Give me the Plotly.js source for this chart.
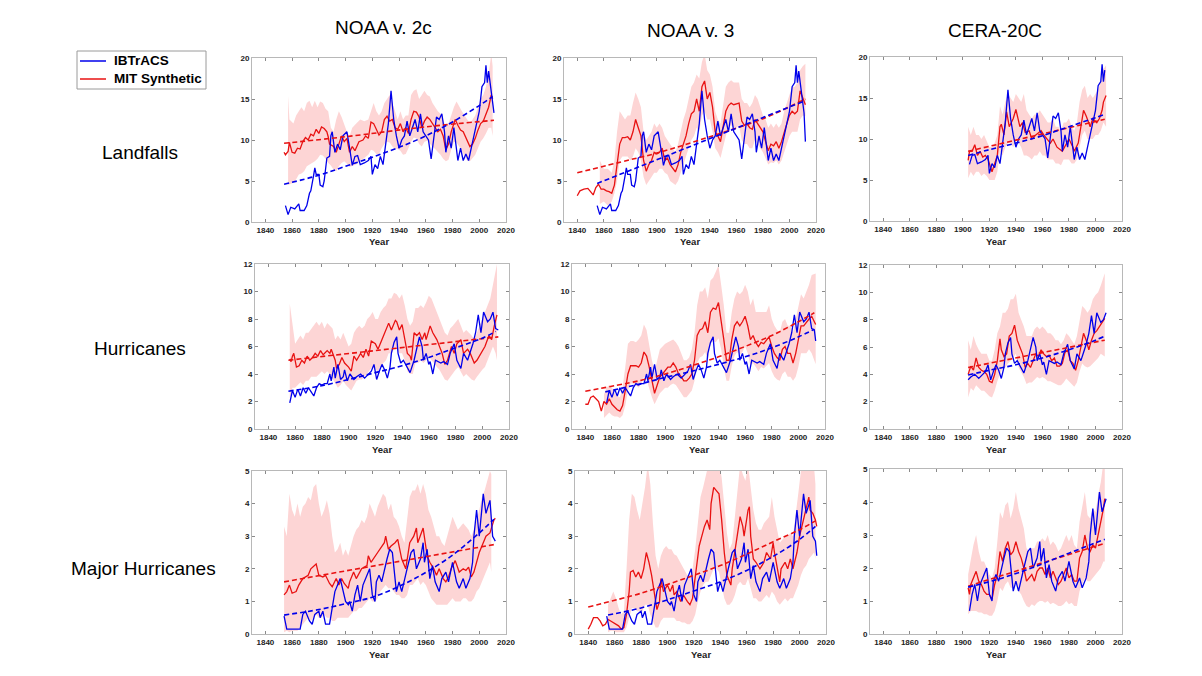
<!DOCTYPE html>
<html><head><meta charset="utf-8">
<script src="https://cdn.plot.ly/plotly-3.0.1.min.js"></script>
<style>html,body{margin:0;padding:0;background:#fff}#chart{width:1202px;height:676px}</style>
</head><body><div id="chart"></div>
<script>
// ---------- tick labels ----------
const xTickVals = [1840,1860,1880,1900,1920,1940,1960,1980,2000,2020];
const yTicksLand = [0,5,10,15,20];
const yTicksHur = [0,2,4,6,8,10,12];
const yTicksMaj = [0,1,2,3,4,5];
const columnTitles = ['NOAA v. 2c','NOAA v. 3','CERA-20C'];
const rowTitles = ['Landfalls','Hurricanes','Major Hurricanes'];
const seriesNames = ['IBTrACS','MIT Synthetic'];

// ---------- IBTrACS (observed) [year, value] ----------
const blueLand = [[1855,2.0],[1857,0.9],[1859,1.8],[1862,1.6],[1865,2.2],[1866,1.4],[1869,1.4],[1871,2.0],[1873,3.5],[1874,3.8],[1876,5.6],[1877,6.6],[1878,5.8],[1880,5.8],[1881,4.5],[1883,4.3],[1884,5.0],[1885,6.5],[1886,7.8],[1888,8.0],[1889,10.5],[1890,11.0],[1891,9.5],[1892,8.5],[1894,9.5],[1896,8.8],[1898,10.5],[1901,11.0],[1903,9.0],[1905,6.9],[1907,8.0],[1909,8.1],[1911,7.0],[1914,7.2],[1917,7.5],[1919,8.0],[1920,5.8],[1922,7.0],[1924,6.5],[1926,8.0],[1928,7.0],[1930,9.5],[1932,12.0],[1934,16.0],[1936,12.5],[1938,10.5],[1940,9.0],[1942,10.0],[1944,10.5],[1946,12.3],[1948,10.5],[1950,11.5],[1952,12.5],[1954,11.0],[1956,13.2],[1958,11.0],[1960,10.5],[1962,10.0],[1964,7.7],[1966,10.5],[1968,12.8],[1970,12.5],[1972,13.2],[1974,11.0],[1975,8.5],[1977,10.5],[1979,9.0],[1981,11.5],[1984,7.5],[1986,9.0],[1988,7.5],[1990,8.3],[1992,7.5],[1994,9.0],[1996,10.5],[1998,12.0],[2000,13.5],[2002,16.5],[2004,17.0],[2005,19.1],[2006,17.0],[2007,18.4],[2009,15.5],[2011,13.3]];
const blueHur = [[1856,1.9],[1857,2.3],[1858,2.8],[1860,2.3],[1862,2.9],[1864,2.4],[1866,3.0],[1868,2.6],[1870,3.0],[1872,2.7],[1874,2.4],[1876,3.0],[1878,3.3],[1880,3.2],[1882,3.3],[1884,3.3],[1886,4.0],[1887,3.5],[1889,4.5],[1890,3.7],[1892,4.7],[1894,3.6],[1896,3.8],[1897,4.3],[1899,3.5],[1901,4.0],[1904,3.6],[1906,3.8],[1909,4.0],[1912,3.7],[1915,4.0],[1917,4.2],[1919,4.7],[1921,3.6],[1923,4.2],[1925,4.7],[1927,4.3],[1929,3.7],[1931,4.5],[1932,5.5],[1934,6.3],[1936,6.7],[1937,5.5],[1939,4.8],[1941,5.0],[1944,4.5],[1946,4.1],[1949,5.0],[1951,5.8],[1953,6.7],[1955,6.0],[1956,5.0],[1958,5.5],[1960,4.7],[1961,4.9],[1963,4.0],[1965,5.0],[1969,4.8],[1971,4.9],[1974,4.7],[1976,5.5],[1979,6.2],[1981,5.0],[1984,4.4],[1986,5.5],[1989,5.0],[1991,5.6],[1993,6.2],[1995,7.0],[1997,8.3],[1999,7.0],[2001,8.5],[2004,7.8],[2006,8.0],[2008,8.5],[2010,7.3],[2012,7.2]];
const blueMaj = [[1854,0.55],[1856,0.15],[1866,0.15],[1868,0.6],[1870,0.7],[1873,0.4],[1875,0.3],[1877,0.6],[1880,0.7],[1881,0.5],[1883,0.7],[1885,0.3],[1888,0.3],[1890,0.8],[1892,1.3],[1896,1.7],[1898,1.3],[1900,1.0],[1902,0.9],[1903,1.0],[1905,0.7],[1907,1.2],[1909,1.5],[1911,1.0],[1913,1.5],[1916,1.8],[1918,2.0],[1920,1.2],[1922,1.0],[1923,1.6],[1925,1.8],[1927,1.6],[1929,2.0],[1931,2.3],[1933,2.6],[1935,2.5],[1938,1.3],[1940,1.6],[1942,1.3],[1944,1.7],[1946,2.0],[1949,2.5],[1951,2.6],[1953,2.0],[1956,2.3],[1958,2.8],[1959,2.2],[1961,2.6],[1963,1.7],[1965,2.1],[1967,1.6],[1970,1.3],[1972,1.7],[1975,1.9],[1977,1.6],[1980,2.2],[1983,1.6],[1985,1.4],[1988,1.7],[1990,1.4],[1993,1.7],[1995,2.2],[1996,3.0],[1998,3.8],[2000,3.0],[2003,4.3],[2005,3.7],[2008,4.1],[2010,3.0],[2012,2.85]];
// extra final year shown in the NOAA v. 3 column
const blueLandV3End = [[2012,9.8]];
const blueHurV3End = [[2013,6.4]];
const blueMajV3End = [[2013,2.4]];

// ---------- MIT Synthetic mean [year, value] ----------
const red11 = [[1854,8.5],[1855,8.2],[1857,8.6],[1858,9.7],[1860,8.5],[1862,8.4],[1864,9.0],[1866,8.9],[1868,9.8],[1870,10.3],[1872,10.0],[1874,10.7],[1876,10.5],[1878,11.3],[1880,10.8],[1882,11.6],[1884,11.4],[1886,11.0],[1887,10.4],[1888,9.5],[1891,9.2],[1893,8.5],[1895,9.5],[1897,10.5],[1899,9.8],[1901,10.2],[1903,8.5],[1905,9.2],[1907,8.7],[1910,9.8],[1913,10.0],[1915,10.5],[1917,10.2],[1919,12.2],[1921,12.0],[1923,11.2],[1925,10.6],[1927,11.0],[1929,12.5],[1931,12.9],[1933,12.3],[1935,12.5],[1937,11.5],[1939,11.3],[1941,12.0],[1943,11.0],[1945,11.5],[1947,10.8],[1949,12.5],[1951,13.5],[1953,13.4],[1955,12.8],[1957,11.5],[1959,12.3],[1961,12.8],[1963,12.5],[1965,12.0],[1967,11.5],[1969,11.0],[1971,11.3],[1973,10.5],[1975,8.8],[1977,9.5],[1979,11.0],[1982,12.5],[1984,11.8],[1986,11.2],[1988,11.0],[1990,10.3],[1993,9.2],[1995,9.5],[1997,10.2],[1999,11.2],[2001,12.0],[2003,12.3],[2005,13.2],[2007,14.0],[2009,15.5],[2010,15.0]];
const red12 = [[1840,3.2],[1842,3.8],[1845,4.0],[1848,4.1],[1850,3.7],[1852,3.3],[1854,4.2],[1856,4.6],[1858,4.0],[1860,4.0],[1862,3.8],[1864,3.7],[1866,3.5],[1868,4.5],[1870,7.0],[1872,9.5],[1874,10.3],[1876,10.3],[1878,10.4],[1880,10.0],[1882,11.0],[1884,12.5],[1886,11.5],[1888,10.5],[1890,7.5],[1892,6.2],[1894,7.0],[1896,7.5],[1898,8.5],[1900,8.3],[1902,8.5],[1904,9.0],[1906,7.5],[1908,7.8],[1910,7.0],[1912,6.5],[1914,6.1],[1916,7.0],[1918,8.5],[1920,9.5],[1922,10.5],[1924,12.0],[1926,13.2],[1928,13.5],[1930,15.0],[1932,13.5],[1934,16.5],[1936,17.2],[1938,15.0],[1940,15.8],[1942,14.0],[1944,11.0],[1946,10.5],[1948,9.8],[1950,11.5],[1952,13.5],[1954,14.2],[1956,14.5],[1958,14.3],[1960,14.4],[1962,14.5],[1964,12.3],[1966,11.8],[1968,12.0],[1970,11.5],[1972,11.3],[1974,12.5],[1976,12.0],[1978,11.5],[1980,11.0],[1982,9.8],[1984,8.7],[1986,9.5],[1988,9.3],[1990,9.8],[1992,9.0],[1994,9.8],[1996,11.0],[1998,12.0],[2000,13.0],[2002,13.5],[2004,13.2],[2006,13.5],[2008,16.0],[2010,15.0],[2012,14.3]];
const red13 = [[1904,7.4],[1905,8.5],[1907,8.5],[1909,9.3],[1911,8.0],[1913,8.5],[1915,7.8],[1917,8.0],[1919,7.5],[1921,6.3],[1922,6.0],[1924,7.0],[1926,8.0],[1928,11.5],[1929,11.8],[1931,10.5],[1933,13.3],[1935,11.5],[1938,12.5],[1940,13.6],[1942,12.0],[1943,11.5],[1945,12.0],[1947,10.8],[1950,11.0],[1952,10.0],[1955,10.5],[1959,11.0],[1961,10.5],[1966,9.5],[1968,10.0],[1971,9.0],[1975,8.5],[1978,9.5],[1980,10.0],[1983,9.0],[1984,8.5],[1987,9.5],[1989,11.5],[1991,13.5],[1993,12.8],[1996,11.5],[1998,12.5],[2001,12.0],[2003,12.5],[2005,13.5],[2006,14.5],[2008,15.3]];
const red21 = [[1856,5.1],[1857,4.9],[1858,5.3],[1859,5.5],[1861,4.5],[1863,4.6],[1865,5.0],[1867,4.8],[1869,5.3],[1871,5.0],[1873,5.2],[1875,5.5],[1877,5.3],[1879,5.7],[1881,5.4],[1884,5.7],[1886,5.5],[1887,5.8],[1890,5.0],[1891,4.4],[1893,4.7],[1895,5.2],[1897,4.8],[1900,4.5],[1902,4.2],[1904,5.3],[1906,5.0],[1909,5.5],[1911,5.2],[1913,5.8],[1915,5.3],[1917,6.4],[1920,6.2],[1922,5.8],[1925,6.5],[1927,7.0],[1930,7.7],[1932,7.2],[1935,7.9],[1936,7.8],[1938,7.2],[1940,7.6],[1942,6.5],[1944,5.5],[1946,5.3],[1947,5.0],[1949,7.0],[1951,6.8],[1953,7.0],[1955,6.5],[1957,7.0],[1958,6.5],[1961,7.5],[1963,7.0],[1966,6.5],[1968,6.0],[1970,5.5],[1972,4.7],[1974,5.0],[1977,6.0],[1979,5.5],[1981,6.2],[1984,6.5],[1986,5.5],[1989,5.8],[1991,5.5],[1994,4.8],[1996,5.0],[1999,5.5],[2002,6.0],[2005,6.8],[2007,6.5],[2009,7.5],[2011,8.3]];
const red22 = [[1840,1.8],[1842,1.8],[1844,2.3],[1846,2.4],[1848,2.2],[1850,2.0],[1852,1.3],[1854,2.0],[1856,1.8],[1858,2.2],[1860,1.8],[1862,1.6],[1864,1.4],[1866,1.3],[1868,1.7],[1870,2.8],[1872,4.0],[1874,4.6],[1876,4.6],[1878,4.6],[1880,4.5],[1882,4.8],[1884,5.6],[1886,5.3],[1888,4.5],[1890,3.5],[1892,2.6],[1894,3.2],[1896,3.8],[1898,4.0],[1900,4.3],[1902,4.5],[1904,4.5],[1906,4.8],[1908,4.5],[1910,4.0],[1912,3.8],[1914,3.5],[1916,3.5],[1918,3.7],[1920,4.0],[1922,5.0],[1924,6.8],[1926,7.2],[1928,7.3],[1930,7.8],[1932,7.0],[1934,8.5],[1936,8.8],[1938,8.7],[1940,9.2],[1942,8.0],[1944,6.5],[1946,5.0],[1948,5.0],[1950,6.5],[1952,7.5],[1954,7.8],[1956,7.5],[1958,7.8],[1960,8.2],[1962,7.5],[1964,6.5],[1966,6.8],[1968,6.3],[1970,6.0],[1972,6.3],[1974,6.2],[1976,6.5],[1978,6.7],[1980,6.0],[1982,5.5],[1984,5.2],[1986,5.0],[1988,5.8],[1990,6.0],[1992,5.5],[1994,5.5],[1996,4.8],[1998,5.5],[2000,6.5],[2002,7.5],[2004,7.5],[2006,7.8],[2008,8.0],[2010,8.2],[2012,7.8],[2013,7.6]];
const red23 = [[1904,4.0],[1906,4.6],[1908,4.3],[1910,5.2],[1912,4.5],[1914,4.3],[1916,4.2],[1918,4.0],[1920,3.5],[1922,3.4],[1924,4.0],[1926,5.0],[1928,6.6],[1929,5.8],[1931,5.3],[1933,5.5],[1935,6.8],[1937,7.0],[1939,7.6],[1941,6.5],[1943,6.0],[1945,5.5],[1947,4.5],[1949,4.8],[1951,4.5],[1953,5.0],[1955,5.5],[1957,5.3],[1959,5.8],[1961,5.5],[1963,5.3],[1965,5.4],[1967,5.0],[1969,5.2],[1971,4.6],[1973,4.6],[1975,4.8],[1977,5.6],[1979,5.8],[1981,5.0],[1983,4.8],[1985,4.3],[1987,5.0],[1989,6.0],[1991,7.0],[1993,6.5],[1995,5.8],[1997,6.5],[1999,7.0],[2001,7.2],[2003,7.5],[2005,7.8],[2007,8.1]];
const red31 = [[1854,1.2],[1856,1.3],[1858,1.5],[1860,1.25],[1863,1.3],[1865,1.5],[1868,1.7],[1872,1.8],[1874,2.0],[1878,2.15],[1880,1.8],[1883,1.75],[1885,1.8],[1888,1.55],[1890,1.45],[1893,1.7],[1895,1.5],[1897,1.7],[1899,1.55],[1902,1.4],[1903,1.6],[1906,1.9],[1908,1.7],[1912,2.0],[1916,2.1],[1917,2.4],[1919,2.2],[1922,2.4],[1924,2.5],[1929,2.8],[1930,3.0],[1932,2.6],[1934,2.7],[1937,2.8],[1939,2.9],[1942,2.3],[1945,2.0],[1948,2.8],[1951,3.0],[1953,3.25],[1954,2.8],[1958,3.25],[1959,3.0],[1961,2.4],[1963,2.2],[1966,2.0],[1968,1.8],[1970,2.0],[1973,1.7],[1975,1.6],[1977,1.75],[1979,2.0],[1982,2.25],[1984,2.0],[1985,1.9],[1988,2.0],[1990,1.95],[1992,2.05],[1994,1.75],[1996,1.9],[1998,2.2],[2000,2.5],[2004,2.9],[2005,3.0],[2008,3.1],[2011,3.5],[2012,3.55]];
const red32 = [[1840,0.15],[1842,0.3],[1844,0.5],[1847,0.5],[1849,0.4],[1851,0.25],[1853,0.3],[1855,0.45],[1857,0.4],[1859,0.35],[1861,0.3],[1863,0.25],[1865,0.15],[1867,0.2],[1869,0.6],[1871,1.3],[1872,1.9],[1874,1.95],[1876,1.75],[1878,1.9],[1880,1.7],[1882,2.0],[1884,2.5],[1886,2.2],[1888,1.8],[1890,1.2],[1892,0.75],[1894,1.0],[1895,1.7],[1897,1.3],[1900,1.5],[1902,1.3],[1904,1.5],[1905,1.2],[1907,1.3],[1910,1.0],[1912,1.2],[1915,1.0],[1917,0.9],[1919,1.1],[1921,1.7],[1924,2.7],[1926,3.0],[1928,3.3],[1930,3.5],[1932,3.2],[1933,4.0],[1935,4.5],[1937,4.4],[1939,4.3],[1941,3.5],[1943,2.5],[1945,1.8],[1948,1.5],[1949,2.0],[1951,2.5],[1953,3.0],[1955,3.6],[1957,3.3],[1958,3.0],[1961,3.8],[1962,3.9],[1963,3.0],[1965,2.3],[1967,2.2],[1970,2.0],[1973,2.2],[1975,2.5],[1978,2.3],[1980,2.8],[1981,2.5],[1983,2.0],[1985,1.6],[1986,2.0],[1989,2.2],[1991,2.0],[1993,2.3],[1995,2.0],[1998,2.5],[2000,3.0],[2003,3.5],[2004,3.7],[2007,4.2],[2008,3.8],[2010,3.7],[2012,3.5],[2013,3.3]];
const red33 = [[1904,1.4],[1905,1.2],[1906,1.5],[1908,1.7],[1910,1.9],[1912,1.6],[1914,1.5],[1916,1.3],[1918,1.2],[1920,1.2],[1922,1.05],[1924,1.5],[1926,1.8],[1928,2.5],[1930,2.2],[1932,2.6],[1934,2.8],[1936,2.4],[1938,2.5],[1940,2.8],[1942,2.5],[1944,2.3],[1946,2.0],[1948,1.6],[1950,1.7],[1952,1.8],[1954,1.6],[1956,1.9],[1958,2.0],[1960,2.0],[1962,1.8],[1964,2.0],[1966,1.7],[1968,1.9],[1970,1.7],[1972,1.5],[1974,1.6],[1976,1.8],[1978,2.0],[1980,1.7],[1982,1.8],[1984,1.6],[1986,1.6],[1988,2.3],[1990,2.5],[1992,3.0],[1994,2.6],[1996,2.5],[1998,2.7],[2000,2.6],[2002,3.0],[2004,3.3],[2006,3.8],[2007,4.1]];

// ---------- MIT Synthetic spread [year, low, high] ----------
const band11 = [[1857,4.5,15.4],[1858,4.6,12.5],[1861,4.8,12.0],[1863,5.2,13.0],[1865,5.8,13.5],[1867,5.9,14.0],[1869,6.2,13.5],[1871,6.8,14.5],[1873,7.0,14.8],[1875,7.2,14.0],[1877,7.4,14.8],[1879,7.7,14.0],[1881,8.2,14.7],[1883,8.1,14.5],[1885,7.7,13.8],[1887,7.2,13.5],[1889,6.9,11.5],[1891,6.4,11.0],[1893,6.2,12.5],[1895,6.8,13.5],[1897,7.2,12.8],[1899,7.4,12.0],[1901,7.1,11.0],[1903,6.7,10.5],[1905,6.8,11.5],[1908,7.0,12.0],[1911,7.5,12.5],[1914,7.8,12.3],[1917,8.2,12.5],[1919,8.8,13.5],[1921,8.7,14.5],[1923,8.3,13.5],[1925,8.3,13.0],[1927,9.0,13.5],[1929,9.5,14.5],[1931,9.8,15.0],[1933,9.7,15.5],[1935,9.2,14.5],[1937,8.9,13.5],[1939,8.9,12.5],[1941,8.7,13.5],[1943,8.2,12.5],[1945,8.3,13.0],[1947,9.0,13.0],[1949,9.8,15.5],[1951,10.3,16.0],[1953,10.2,16.2],[1955,9.5,15.0],[1957,9.2,15.5],[1959,9.8,16.0],[1961,9.9,15.5],[1963,9.6,15.3],[1965,9.2,14.5],[1967,8.9,14.0],[1969,8.6,13.5],[1971,8.2,13.2],[1973,7.7,12.5],[1975,7.4,11.5],[1977,7.6,12.0],[1979,8.8,13.0],[1981,9.8,14.0],[1983,9.7,14.7],[1985,9.2,14.0],[1987,8.7,13.5],[1989,8.1,13.0],[1991,7.5,12.5],[1993,7.4,12.0],[1995,7.8,12.5],[1997,8.2,13.0],[1999,9.0,14.0],[2001,9.8,15.0],[2003,10.2,15.5],[2005,10.8,16.5],[2007,11.5,18.0],[2009,11.5,20.5],[2010,10.5,19.0]];
const band12 = [[1857,2.2,7.5],[1860,2.5,6.5],[1863,2.0,6.5],[1866,2.5,6.0],[1868,3.5,7.5],[1870,5.0,11.0],[1872,7.5,13.5],[1874,8.0,13.0],[1876,8.0,12.5],[1878,8.0,13.0],[1880,7.5,13.0],[1882,8.0,14.5],[1884,9.0,15.8],[1886,8.5,15.0],[1888,7.5,14.0],[1890,5.5,11.0],[1892,4.5,10.0],[1894,5.0,10.5],[1896,5.5,11.0],[1898,6.0,12.0],[1900,6.0,11.5],[1902,6.5,12.0],[1904,6.5,11.5],[1906,6.0,10.5],[1908,5.8,10.0],[1910,5.0,9.5],[1912,4.8,9.0],[1914,4.5,8.5],[1916,5.0,9.5],[1918,6.0,11.0],[1920,7.0,12.5],[1922,8.0,13.5],[1924,9.0,15.0],[1926,10.0,16.5],[1928,10.5,17.0],[1930,11.5,18.0],[1932,11.0,17.5],[1934,13.0,19.5],[1936,13.5,20.5],[1938,12.5,18.5],[1940,12.5,18.0],[1942,11.0,16.5],[1944,9.0,13.5],[1946,8.5,12.5],[1948,7.8,12.0],[1950,9.0,14.0],[1952,10.5,16.5],[1954,11.5,17.0],[1956,11.8,17.3],[1958,11.5,17.0],[1960,11.5,17.0],[1962,11.8,17.0],[1964,10.0,15.0],[1966,9.5,14.5],[1968,9.5,14.5],[1970,9.0,14.0],[1972,9.0,14.5],[1974,10.0,15.5],[1976,9.5,15.0],[1978,9.0,14.0],[1980,8.5,13.0],[1982,7.8,12.5],[1984,7.0,11.5],[1986,7.3,12.0],[1988,7.2,11.5],[1990,7.5,12.0],[1992,7.0,11.5],[1994,7.5,12.0],[1996,8.5,13.5],[1998,9.5,14.5],[2000,10.5,15.5],[2002,11.0,16.5],[2004,11.0,16.5],[2006,11.0,17.0],[2008,12.5,18.5],[2010,13.0,19.0],[2012,12.9,19.3]];
const band13 = [[1904,5.2,11.5],[1906,6.0,10.5],[1908,5.5,11.5],[1910,6.0,10.5],[1912,6.0,10.5],[1914,5.5,10.0],[1916,5.8,10.5],[1918,5.5,9.8],[1920,5.0,9.0],[1922,5.0,9.0],[1924,5.0,9.5],[1926,6.0,10.5],[1928,8.5,14.0],[1930,8.0,13.0],[1932,9.0,14.5],[1934,9.5,15.5],[1936,9.5,15.0],[1938,9.0,14.5],[1940,10.0,15.5],[1942,9.5,15.0],[1944,9.0,14.5],[1946,8.0,15.5],[1948,8.0,13.5],[1950,7.8,13.0],[1952,7.5,12.5],[1954,8.0,13.0],[1956,8.0,13.0],[1958,8.5,13.5],[1960,8.0,13.0],[1962,8.0,12.5],[1964,7.5,12.0],[1966,7.5,12.0],[1968,7.5,12.5],[1970,7.0,11.5],[1972,7.0,11.5],[1974,6.8,11.0],[1976,7.5,12.0],[1978,7.5,12.0],[1980,7.5,12.5],[1982,7.0,11.5],[1984,7.0,11.0],[1986,7.5,12.0],[1988,9.0,14.5],[1990,10.5,16.0],[1992,11.0,16.5],[1994,10.0,15.0],[1996,10.0,15.5],[1998,10.0,15.0],[2000,10.5,15.5],[2002,10.5,16.0],[2004,11.0,17.0],[2006,12.0,18.5],[2008,11.5,19.0]];
const band21 = [[1856,2.2,9.1],[1858,3.0,7.5],[1860,3.0,6.2],[1862,3.2,6.5],[1864,3.4,6.8],[1866,3.2,6.5],[1868,3.5,7.0],[1870,3.5,7.0],[1872,3.8,7.3],[1874,3.8,7.5],[1876,3.8,7.8],[1878,4.0,7.5],[1880,4.2,7.8],[1882,4.0,7.3],[1884,4.2,7.7],[1886,4.0,7.5],[1888,3.7,7.3],[1890,3.3,6.5],[1892,3.0,6.8],[1894,3.2,6.5],[1896,3.5,7.0],[1898,3.2,6.5],[1900,3.0,6.0],[1902,2.8,6.2],[1904,3.2,7.0],[1906,3.5,7.3],[1908,3.6,7.5],[1910,3.6,7.3],[1912,3.8,7.5],[1914,4.0,8.0],[1916,4.3,8.2],[1918,4.5,8.5],[1920,4.3,8.0],[1922,4.2,8.0],[1924,4.5,8.5],[1926,4.8,8.8],[1928,5.0,9.0],[1930,5.5,9.5],[1932,5.5,9.5],[1934,5.8,9.9],[1936,5.8,9.8],[1938,5.5,9.5],[1940,5.5,9.8],[1942,5.0,9.0],[1944,4.2,8.0],[1946,4.0,7.5],[1948,4.0,7.8],[1950,4.8,8.8],[1952,4.8,8.8],[1954,5.0,9.0],[1956,4.8,8.8],[1958,5.0,9.2],[1960,5.3,9.7],[1962,5.0,9.5],[1964,4.8,9.0],[1966,4.5,8.5],[1968,4.3,8.0],[1970,4.0,7.5],[1972,3.6,7.0],[1974,3.5,6.8],[1976,3.8,7.3],[1978,4.0,7.5],[1980,4.3,7.8],[1982,4.5,8.0],[1984,4.2,7.5],[1986,3.8,7.0],[1988,4.0,7.2],[1990,3.8,7.0],[1992,3.6,6.8],[1994,3.5,6.5],[1996,3.8,7.0],[1998,4.0,7.5],[2000,4.3,8.0],[2002,4.5,8.5],[2004,5.0,9.0],[2006,5.5,9.5],[2008,6.0,10.5],[2010,5.5,11.5],[2011,5.0,12.0]];
const band22 = [[1854,0.8,2.5],[1856,1.0,3.0],[1858,1.2,3.2],[1860,1.0,3.0],[1862,0.9,2.6],[1864,0.9,2.4],[1866,0.8,2.3],[1868,1.0,3.0],[1870,1.7,4.5],[1872,2.8,6.2],[1874,3.3,6.4],[1876,3.3,6.4],[1878,3.2,6.3],[1880,3.0,6.5],[1882,3.3,6.8],[1884,3.8,7.6],[1886,3.6,7.2],[1888,3.0,6.0],[1890,2.3,5.0],[1892,1.8,4.2],[1894,2.2,5.0],[1896,2.6,5.8],[1898,2.8,6.0],[1900,3.0,6.2],[1902,3.0,6.3],[1904,3.2,6.4],[1906,3.3,6.5],[1908,3.2,6.3],[1910,2.8,6.0],[1912,2.6,5.5],[1914,2.3,5.0],[1916,2.3,5.0],[1918,2.5,5.2],[1920,2.8,5.8],[1922,3.5,7.0],[1924,4.8,9.0],[1926,5.2,10.0],[1928,5.3,10.0],[1930,5.6,10.3],[1932,5.0,9.5],[1934,6.2,10.8],[1936,6.4,11.0],[1938,6.3,11.5],[1940,6.6,11.9],[1942,5.8,10.5],[1944,4.5,9.0],[1946,3.5,7.0],[1948,3.5,7.0],[1950,4.6,8.5],[1952,5.3,9.5],[1954,5.6,10.0],[1956,5.4,9.8],[1958,5.6,10.0],[1960,6.0,10.5],[1962,5.5,10.0],[1964,4.6,9.0],[1966,4.8,9.5],[1968,4.5,8.5],[1970,4.2,8.5],[1972,4.5,8.5],[1974,4.4,8.5],[1976,4.6,8.5],[1978,4.8,9.0],[1980,4.2,8.0],[1982,3.8,7.5],[1984,3.6,7.2],[1986,3.5,7.0],[1988,4.0,7.8],[1990,4.2,8.0],[1992,3.8,7.5],[1994,3.8,7.5],[1996,3.5,7.0],[1998,3.8,8.0],[2000,4.5,9.0],[2002,5.5,9.8],[2004,5.5,9.5],[2006,5.5,10.0],[2008,5.8,10.5],[2010,5.5,11.2],[2013,4.7,11.3]];
const band23 = [[1904,2.3,6.5],[1906,3.0,5.8],[1908,2.8,6.8],[1910,3.2,6.2],[1912,3.0,5.8],[1914,2.8,5.5],[1916,2.8,5.5],[1918,2.6,5.5],[1920,2.4,5.0],[1922,2.3,5.0],[1924,2.8,5.8],[1926,3.5,7.0],[1928,4.0,7.5],[1930,4.5,8.5],[1932,4.5,8.5],[1934,4.8,8.8],[1936,5.0,9.5],[1938,5.2,9.5],[1940,5.5,9.9],[1942,4.5,8.5],[1944,4.2,8.0],[1946,3.8,7.5],[1948,3.3,6.8],[1950,3.4,6.8],[1952,3.4,6.8],[1954,3.6,7.3],[1956,3.8,7.5],[1958,3.7,7.3],[1960,3.8,7.5],[1962,3.7,7.3],[1964,3.5,7.0],[1966,3.5,7.0],[1968,3.4,6.8],[1970,3.3,6.5],[1972,3.2,6.5],[1974,3.2,6.2],[1976,3.4,6.5],[1978,3.7,7.0],[1980,3.5,6.8],[1982,3.3,6.5],[1984,3.1,6.2],[1986,3.4,6.8],[1988,4.2,8.0],[1990,4.8,9.0],[1992,4.6,8.8],[1994,4.5,8.5],[1996,4.6,8.8],[1998,4.8,9.5],[2000,5.0,9.8],[2002,5.2,10.0],[2004,5.5,10.5],[2007,5.3,11.4]];
const band31 = [[1854,0.05,3.3],[1856,0.1,3.0],[1858,0.05,4.3],[1860,0.1,3.8],[1862,0.1,3.6],[1864,0.1,4.0],[1866,0.2,3.6],[1868,0.3,3.9],[1870,0.4,4.0],[1872,0.5,4.2],[1874,0.4,4.1],[1876,0.5,4.5],[1878,0.6,4.6],[1880,0.5,4.0],[1882,0.5,3.6],[1884,0.6,3.8],[1886,0.5,4.1],[1888,0.5,3.7],[1890,0.4,3.0],[1892,0.4,2.5],[1894,0.5,2.6],[1896,0.5,2.8],[1898,0.5,2.4],[1900,0.5,2.6],[1902,0.5,2.4],[1904,0.6,2.7],[1906,0.7,3.0],[1908,0.7,3.2],[1910,0.8,3.3],[1912,0.8,3.5],[1914,0.9,3.4],[1916,1.0,3.6],[1918,1.1,4.0],[1920,1.0,3.8],[1922,1.0,3.6],[1924,1.1,3.9],[1926,1.3,4.1],[1928,1.4,4.3],[1930,1.5,4.2],[1932,1.4,3.8],[1934,1.4,4.0],[1936,1.3,3.6],[1938,1.2,3.5],[1940,1.2,3.3],[1942,1.1,3.0],[1944,1.1,2.8],[1946,1.2,3.5],[1948,1.5,4.2],[1950,1.5,4.4],[1952,1.6,4.4],[1954,1.7,4.6],[1956,1.5,4.3],[1958,1.6,4.6],[1960,1.5,4.3],[1962,1.3,3.8],[1964,1.1,3.6],[1966,1.0,3.3],[1968,0.9,3.0],[1970,0.9,3.0],[1972,0.9,2.8],[1974,0.9,2.7],[1976,0.9,3.0],[1978,1.0,3.3],[1980,1.1,3.6],[1982,1.0,3.4],[1984,1.0,3.2],[1986,1.0,3.3],[1988,1.1,3.4],[1990,1.1,3.3],[1992,1.0,3.2],[1994,1.0,3.0],[1996,1.1,3.2],[1998,1.3,3.5],[2000,1.4,3.8],[2002,1.6,4.2],[2004,1.8,4.4],[2006,2.0,4.7],[2008,2.2,5.0],[2009,1.9,4.9]];
const band32 = [[1855,0.05,0.9],[1857,0.1,1.1],[1859,0.1,1.3],[1861,0.05,1.1],[1863,0.05,0.8],[1865,0.05,0.6],[1867,0.05,0.7],[1869,0.2,2.0],[1871,0.5,3.5],[1873,0.8,4.3],[1875,0.8,4.2],[1877,0.7,3.8],[1879,0.7,3.5],[1881,0.7,4.0],[1883,0.9,4.5],[1885,0.9,5.2],[1887,0.6,4.6],[1889,0.4,3.4],[1891,0.2,2.4],[1893,0.2,2.0],[1895,0.4,2.4],[1897,0.5,2.6],[1899,0.5,2.7],[1901,0.5,2.6],[1903,0.5,2.6],[1905,0.5,2.45],[1907,0.4,2.4],[1909,0.4,2.25],[1911,0.35,2.1],[1913,0.35,1.95],[1915,0.3,1.8],[1917,0.3,1.8],[1919,0.4,2.0],[1921,0.6,2.6],[1923,1.0,3.5],[1925,1.3,4.2],[1927,1.5,4.5],[1929,1.6,4.9],[1931,1.6,5.2],[1933,1.8,5.4],[1935,2.0,5.5],[1937,2.0,5.5],[1939,1.9,5.3],[1941,1.5,4.8],[1943,1.1,4.0],[1945,0.9,3.1],[1947,0.9,2.6],[1949,1.0,2.8],[1951,1.2,3.6],[1953,1.5,4.5],[1955,1.6,5.2],[1957,1.5,4.9],[1959,1.5,4.7],[1961,1.7,5.2],[1963,1.4,4.5],[1965,1.1,3.8],[1967,1.1,3.4],[1969,1.0,3.2],[1971,1.0,3.2],[1973,1.1,3.4],[1975,1.2,3.5],[1977,1.1,3.6],[1979,1.3,4.2],[1981,1.2,3.6],[1983,1.0,3.2],[1985,0.9,2.8],[1987,1.0,2.9],[1989,1.1,3.0],[1991,1.0,3.0],[1993,1.1,3.1],[1995,1.1,3.0],[1997,1.3,3.6],[1999,1.5,4.3],[2001,1.8,5.0],[2003,2.0,5.3],[2005,2.1,5.3],[2007,2.3,5.4],[2009,2.4,5.2],[2011,2.5,5.1],[2012,2.3,4.6]];
const band33 = [[1904,0.6,1.8],[1906,0.7,2.3],[1908,0.7,2.7],[1910,0.7,3.0],[1912,0.65,2.5],[1914,0.65,2.2],[1916,0.6,2.2],[1918,0.6,2.0],[1920,0.55,1.8],[1922,0.55,1.7],[1924,0.7,2.0],[1926,1.0,2.8],[1928,1.4,3.7],[1930,1.3,3.5],[1932,1.5,3.9],[1934,1.6,4.0],[1936,1.4,3.5],[1938,1.4,3.8],[1940,1.6,4.3],[1942,1.3,3.8],[1944,1.2,3.5],[1946,1.0,3.2],[1948,0.85,2.6],[1950,0.8,2.5],[1952,0.9,2.6],[1954,0.85,2.6],[1956,0.95,2.8],[1958,1.0,2.8],[1960,1.0,2.9],[1962,0.95,2.8],[1964,1.0,3.0],[1966,0.9,2.7],[1968,0.95,2.8],[1970,0.9,2.7],[1972,0.85,2.5],[1974,0.85,2.6],[1976,0.9,2.8],[1978,1.0,3.0],[1980,0.9,2.8],[1982,0.95,3.0],[1984,0.85,2.7],[1986,0.85,2.6],[1988,1.3,3.4],[1990,1.5,3.8],[1992,1.7,4.3],[1994,1.6,3.6],[1996,1.6,3.5],[1998,1.7,3.8],[2000,1.8,3.7],[2002,1.9,4.2],[2004,2.0,4.6],[2006,2.2,5.2],[2007,2.2,5.2]];

// ---------- fitted trends [year, value] ----------
const tRed11 = [[1854,9.6],[1900,10.4],[1960,11.6],[2011,12.4]];
const tBlue11 = [[1854,4.6],[1880,5.7],[1900,6.8],[1920,7.9],[1940,9.1],[1960,10.5],[1980,12.2],[2000,14.2],[2010,15.3]];
const tRed12 = [[1840,6.0],[1880,7.6],[1900,8.4],[1940,10.4],[1980,12.6],[2012,15.0]];
const tBlue12 = [[1855,4.7],[2012,14.8]];
const tRed13 = [[1904,8.5],[2007,12.4]];
const tBlue13 = [[1904,8.0],[1920,8.7],[1940,9.5],[1960,10.4],[1980,11.5],[2000,12.6],[2007,13.0]];
const tRed21 = [[1855,5.0],[2012,6.7]];
const tBlue21 = [[1855,2.75],[1880,3.15],[1900,3.6],[1920,4.1],[1940,4.6],[1960,5.2],[1980,5.9],[2000,6.6],[2010,7.1]];
const tRed22 = [[1840,2.75],[1880,3.5],[1900,4.0],[1920,4.6],[1940,5.25],[1960,6.0],[1980,6.8],[2000,7.8],[2012,8.45]];
const tBlue22 = [[1855,2.7],[1880,3.25],[1900,3.75],[1920,4.2],[1940,4.7],[1960,5.25],[1980,5.9],[2000,6.7],[2012,7.25]];
const tRed23 = [[1904,4.5],[2007,6.5]];
const tBlue23 = [[1904,3.95],[1920,4.3],[1940,4.7],[1960,5.2],[1980,5.8],[2000,6.5],[2007,6.8]];
const tRed31 = [[1854,1.6],[2012,2.75]];
const tBlue31 = [[1854,0.58],[1880,0.75],[1900,0.93],[1920,1.13],[1940,1.46],[1960,1.89],[1980,2.42],[2000,3.1],[2011,3.52]];
const tRed32 = [[1840,0.83],[1880,1.25],[1900,1.52],[1920,1.8],[1940,2.1],[1960,2.45],[1980,2.83],[2000,3.2],[2012,3.47]];
const tBlue32 = [[1855,0.58],[1880,0.8],[1900,1.05],[1920,1.32],[1940,1.6],[1960,1.95],[1980,2.38],[2000,2.9],[2012,3.3]];
const tRed33 = [[1904,1.45],[2007,2.75]];
const tBlue33 = [[1904,1.42],[1930,1.7],[1955,2.05],[1980,2.45],[2007,2.87]];

// ---------- layout ----------
const W = 1202, H = 676;
const BLUE = 'rgb(0,0,235)', RED = 'rgb(232,18,18)', PINK = 'rgb(253,213,213)';
const FONT = 'Liberation Sans, Arial, sans-serif';
const boxes = [
  [252,506,58,222],[564,816,58,222],[870,1122,57,221],
  [255,509,264,429],[572,825,264,429],[870,1122,265,429],
  [252,506,471,634],[575,826,471,634],[870,1122,469,634]
];
const rowBlue = [blueLand, blueHur, blueMaj];
const rowBlueV3 = [blueLandV3End, blueHurV3End, blueMajV3End];
const rowYRange = [[0,20],[0,12],[0,5]];
const rowYTicks = [yTicksLand, yTicksHur, yTicksMaj];
const panelRed = [red11,red12,red13,red21,red22,red23,red31,red32,red33];
const panelBand = [band11,band12,band13,band21,band22,band23,band31,band32,band33];
const panelTRed = [tRed11,tRed12,tRed13,tRed21,tRed22,tRed23,tRed31,tRed32,tRed33];
const panelTBlue = [tBlue11,tBlue12,tBlue13,tBlue21,tBlue22,tBlue23,tBlue31,tBlue32,tBlue33];

const xs = a => a.map(p => p[0]);
const ys = a => a.map(p => p[1]);

const traces = [];
const layout = {
  width: W, height: H, margin: {l:0,r:0,t:0,b:0},
  paper_bgcolor: '#fff', plot_bgcolor: '#fff',
  showlegend: false,
  annotations: [], shapes: []
};
const tickFont = {family: FONT, size: 8, color: '#222', weight: 'bold'};

for (let i = 0; i < 9; i++) {
  const row = Math.floor(i / 3), col = i % 3;
  const [x0, x1, yt, yb] = boxes[i];
  const sfx = i === 0 ? '' : String(i + 1);
  const xa = 'x' + sfx, ya = 'y' + sfx;
  const common = {ticks: 'inside', ticklen: 3, tickwidth: 1, tickcolor: '#8a8a8a',
    showline: true, linecolor: '#b8b8b8', linewidth: 1, mirror: 'ticks',
    showgrid: false, zeroline: false, tickfont: tickFont, fixedrange: true};
  layout['xaxis' + sfx] = Object.assign({}, common, {domain: [x0/W, x1/W], range: [1830, 2020],
    tickvals: xTickVals, ticktext: xTickVals.map(String), anchor: ya});
  layout['yaxis' + sfx] = Object.assign({}, common, {domain: [1 - yb/H, 1 - yt/H], range: rowYRange[row],
    tickvals: rowYTicks[row], ticktext: rowYTicks[row].map(String), anchor: xa});

  let blue = rowBlue[row];
  if (col === 1) blue = blue.concat(rowBlueV3[row]);
  if (col === 2) blue = blue.filter(p => p[0] >= 1904 && p[0] <= 2008);

  const band = panelBand[i];
  traces.push({type: 'scatter', mode: 'lines', xaxis: xa, yaxis: ya,
    x: xs(band).concat(xs(band).slice().reverse()),
    y: band.map(p => p[2]).concat(band.map(p => p[1]).reverse()),
    fill: 'toself', fillcolor: PINK, line: {width: 0, color: PINK}, hoverinfo: 'skip'});
  traces.push({type: 'scatter', mode: 'lines', xaxis: xa, yaxis: ya,
    x: xs(panelRed[i]), y: ys(panelRed[i]), name: seriesNames[1],
    line: {color: RED, width: 1.3}});
  traces.push({type: 'scatter', mode: 'lines', xaxis: xa, yaxis: ya,
    x: xs(blue), y: ys(blue), name: seriesNames[0],
    line: {color: BLUE, width: 1.3}});
  traces.push({type: 'scatter', mode: 'lines', xaxis: xa, yaxis: ya,
    x: xs(panelTRed[i]), y: ys(panelTRed[i]),
    line: {color: RED, width: 1.6, dash: '5px,3px', shape: 'spline'}});
  traces.push({type: 'scatter', mode: 'lines', xaxis: xa, yaxis: ya,
    x: xs(panelTBlue[i]), y: ys(panelTBlue[i]),
    line: {color: BLUE, width: 1.6, dash: '5px,3px', shape: 'spline'}});

  const yearY = [242, 449, 654][row];
  layout.annotations.push({xref: 'paper', yref: 'paper', x: (x0 + x1) / 2 / W, y: 1 - yearY / H,
    xanchor: 'center', yanchor: 'middle', showarrow: false, text: 'Year',
    font: {family: FONT, size: 9.5, color: '#222', weight: 'bold'}});
}

// column titles
[[383,28],[690,30],[995,30]].forEach((p, k) => layout.annotations.push({
  xref: 'paper', yref: 'paper', x: p[0]/W, y: 1 - p[1]/H, xanchor: 'center', yanchor: 'middle',
  showarrow: false, text: columnTitles[k], font: {family: FONT, size: 19, color: '#000'}}));
// row titles
[[140,152],[140,348],[143,568]].forEach((p, k) => layout.annotations.push({
  xref: 'paper', yref: 'paper', x: p[0]/W, y: 1 - p[1]/H, xanchor: 'center', yanchor: 'middle',
  showarrow: false, text: rowTitles[k], font: {family: FONT, size: 19, color: '#000'}}));

// legend box (drawn as a key, top-left)
const px = v => v / W, py = v => 1 - v / H;
layout.shapes.push({type: 'rect', xref: 'paper', yref: 'paper', x0: px(77), x1: px(206), y0: py(89), y1: py(51),
  line: {color: '#9a9a9a', width: 1}, fillcolor: '#fff', layer: 'above'});
[[61, BLUE, seriesNames[0]], [79, RED, seriesNames[1]]].forEach(([yy, c, name]) => {
  layout.shapes.push({type: 'line', xref: 'paper', yref: 'paper', x0: px(80), x1: px(106), y0: py(yy), y1: py(yy),
    line: {color: c, width: 1.5}, layer: 'above'});
  layout.annotations.push({xref: 'paper', yref: 'paper', x: px(112), y: py(yy), xanchor: 'left', yanchor: 'middle',
    showarrow: false, text: name, font: {family: FONT, size: 13.5, color: '#000', weight: 'bold'}});
});

Plotly.newPlot('chart', traces, layout, {staticPlot: true, displayModeBar: false});
</script></body></html>
